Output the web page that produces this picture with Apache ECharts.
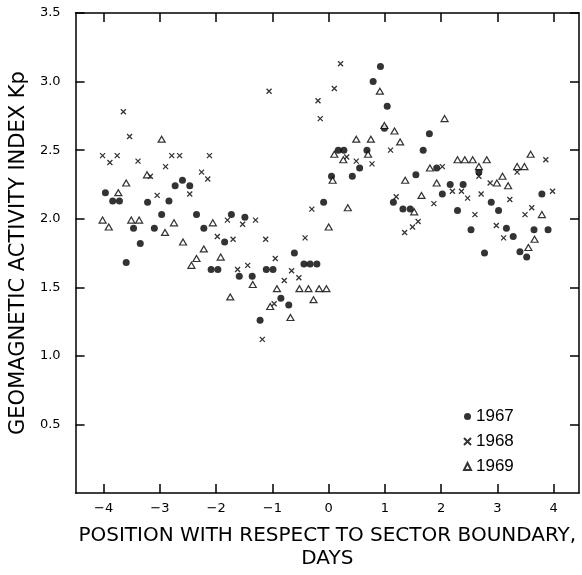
<!DOCTYPE html>
<html><head><meta charset="utf-8">
<script src="https://cdn.jsdelivr.net/npm/echarts@6/dist/echarts.min.js"></script>
<style>html,body{margin:0;padding:0;background:#fff}#c{width:582px;height:575px}</style>
</head><body><div id="c"></div>
<script>
// 1967 (filled circles)
const x1967=[-3.97,-3.84,-3.72,-3.60,-3.47,-3.35,-3.22,-3.10,-2.97,-2.84,-2.73,-2.60,-2.47,-2.35,-2.22,-2.09,-1.97,-1.85,-1.73,-1.59,-1.49,-1.36,-1.22,-1.11,-0.99,-0.85,-0.71,-0.61,-0.44,-0.33,-0.21,-0.09,0.05,0.17,0.27,0.42,0.55,0.68,0.79,0.92,0.99,1.04,1.15,1.32,1.45,1.55,1.68,1.79,1.92,2.02,2.16,2.29,2.39,2.53,2.67,2.77,2.89,3.02,3.16,3.28,3.40,3.52,3.65,3.79,3.90];
const y1967=[2.19,2.13,2.13,1.68,1.93,1.82,2.12,1.93,2.03,2.13,2.24,2.28,2.24,2.03,1.93,1.63,1.63,1.83,2.03,1.58,2.01,1.58,1.26,1.63,1.63,1.42,1.37,1.75,1.67,1.67,1.67,2.12,2.31,2.50,2.50,2.31,2.37,2.50,3.00,3.11,2.66,2.82,2.12,2.07,2.07,2.32,2.50,2.62,2.37,2.18,2.25,2.06,2.25,1.92,2.34,1.75,2.12,2.06,1.93,1.87,1.76,1.72,1.92,2.18,1.92];
// 1968 (crosses)
const x1968=[-4.02,-3.89,-3.76,-3.65,-3.54,-3.39,-3.17,-3.05,-2.90,-2.79,-2.65,-2.47,-2.26,-2.15,-2.12,-1.98,-1.80,-1.70,-1.62,-1.53,-1.44,-1.30,-1.18,-1.12,-1.06,-0.97,-0.95,-0.79,-0.66,-0.53,-0.42,-0.30,-0.19,-0.15,0.10,0.21,0.32,0.49,0.77,1.10,1.20,1.35,1.49,1.59,1.87,2.02,2.20,2.36,2.47,2.60,2.67,2.71,2.87,2.98,3.11,3.22,3.35,3.49,3.61,3.86,3.98];
const y1968=[2.46,2.41,2.46,2.78,2.60,2.42,2.31,2.17,2.38,2.46,2.46,2.18,2.34,2.29,2.46,1.87,1.99,1.85,1.63,1.96,1.66,1.99,1.12,1.85,2.93,1.38,1.71,1.55,1.62,1.57,1.86,2.07,2.86,2.73,2.95,3.13,2.45,2.42,2.40,2.50,2.16,1.90,1.94,1.98,2.11,2.38,2.20,2.20,2.15,2.03,2.31,2.18,2.26,1.95,1.86,2.14,2.34,2.03,2.08,2.43,2.20];
// 1969 (open triangles)
const x1969=[-4.02,-3.91,-3.74,-3.60,-3.51,-3.37,-3.23,-2.97,-2.91,-2.75,-2.59,-2.44,-2.35,-2.22,-2.06,-1.92,-1.75,-1.35,-1.04,-0.92,-0.68,-0.52,-0.36,-0.27,-0.17,-0.04,0.00,0.07,0.10,0.26,0.34,0.49,0.70,0.75,0.91,0.99,1.17,1.27,1.36,1.52,1.65,1.80,1.92,2.06,2.29,2.42,2.56,2.67,2.81,2.99,3.09,3.19,3.35,3.48,3.55,3.59,3.66,3.79];
const y1969=[1.99,1.94,2.19,2.26,1.99,1.99,2.32,2.58,1.90,1.97,1.83,1.66,1.71,1.78,1.97,1.72,1.43,1.52,1.36,1.49,1.28,1.49,1.49,1.41,1.49,1.49,1.94,2.28,2.47,2.43,2.08,2.58,2.47,2.58,2.93,2.68,2.64,2.56,2.28,2.05,2.17,2.37,2.26,2.73,2.43,2.43,2.43,2.38,2.43,2.26,2.31,2.24,2.38,2.38,1.79,2.47,1.85,2.03];

const seriesNames=['1967','1968','1969'];
const xTicks=[-4,-3,-2,-1,0,1,2,3,4];
const xTickLabels=['−4','−3','−2','−1','0','1','2','3','4'];
const yTicks=[0.5,1,1.5,2,2.5,3,3.5];
const yTickLabels=['0.5','1.0','1.5','2.0','2.5','3.0','3.5'];

const zip=(xs,ys)=>xs.map((x,i)=>[x,ys[i]]);
const tickStyle={show:true,inside:true,length:9,lineStyle:{color:'#000',width:1.5}};
const lineStyle={show:true,onZero:false,lineStyle:{color:'#000',width:1.5}};
const font='DejaVu Sans';
const chart=echarts.init(document.getElementById('c'));
chart.setOption({
  animation:false,
  backgroundColor:'#fff',
  grid:{left:72,right:3,top:13,bottom:72},
  xAxis:[{
    type:'value',min:-4.5,max:4.45,position:'bottom',
    axisLine:lineStyle,splitLine:{show:false},
    axisTick:Object.assign({customValues:xTicks},tickStyle),
    axisLabel:{customValues:xTicks,margin:9,color:'#000',fontFamily:font,fontSize:13,
      formatter:v=>xTickLabels[xTicks.indexOf(v)]},
    name:'POSITION WITH RESPECT TO SECTOR BOUNDARY,\nDAYS',
    nameLocation:'middle',nameGap:31,
    nameTextStyle:{color:'#000',fontFamily:font,fontSize:20,lineHeight:23}
  },{
    type:'value',min:-4.5,max:4.45,position:'top',
    axisLine:lineStyle,splitLine:{show:false},
    axisTick:Object.assign({customValues:xTicks},tickStyle),
    axisLabel:{show:false}
  }],
  yAxis:[{
    type:'value',min:0,max:3.5,position:'left',
    axisLine:lineStyle,splitLine:{show:false},
    axisTick:Object.assign({customValues:yTicks},tickStyle),
    axisLabel:{customValues:yTicks,margin:15,color:'#000',fontFamily:font,fontSize:13,
      formatter:v=>yTickLabels[yTicks.indexOf(v)]},
    name:'GEOMAGNETIC ACTIVITY INDEX Kp',
    nameLocation:'middle',nameGap:43,
    nameTextStyle:{color:'#000',fontFamily:font,fontSize:21}
  },{
    type:'value',min:0,max:3.5,position:'right',
    axisLine:lineStyle,splitLine:{show:false},
    axisTick:Object.assign({customValues:yTicks},tickStyle),
    axisLabel:{show:false}
  }],
  legend:{
    orient:'vertical',left:458,top:403,itemWidth:7,itemHeight:7,itemGap:8,
    data:seriesNames,
    textStyle:{color:'#000',fontFamily:'Liberation Sans',fontSize:17}
  },
  series:[{
    name:seriesNames[0],type:'scatter',xAxisIndex:0,yAxisIndex:0,
    symbol:'circle',symbolSize:7,
    itemStyle:{color:'#000'},
    data:zip(x1967,y1967)
  },{
    name:seriesNames[1],type:'scatter',xAxisIndex:0,yAxisIndex:0,
    symbol:'path://M0,0L10,10M10,0L0,10',symbolSize:5,
    itemStyle:{color:'#000',borderColor:'#000',borderWidth:1.3},
    data:zip(x1968,y1968)
  },{
    name:seriesNames[2],type:'scatter',xAxisIndex:0,yAxisIndex:0,
    symbol:'triangle',symbolSize:[7,6],
    itemStyle:{color:'#fff',borderColor:'#000',borderWidth:1.2},
    data:zip(x1969,y1969)
  }]
});
</script></body></html>
